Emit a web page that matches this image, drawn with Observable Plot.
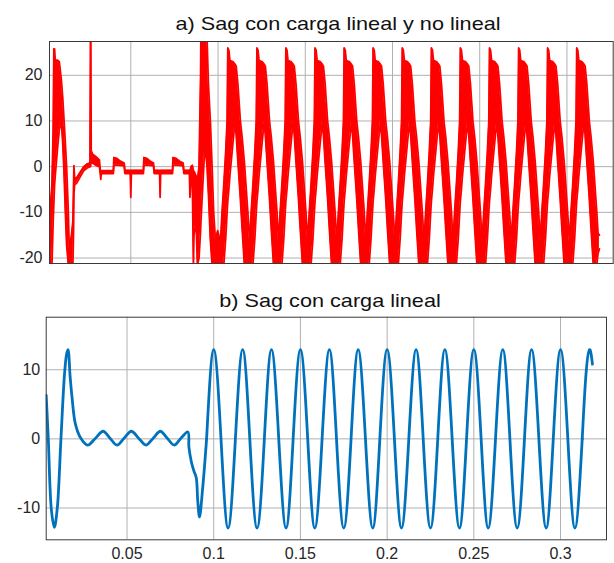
<!DOCTYPE html>
<html><head><meta charset="utf-8">
<script src="https://cdn.jsdelivr.net/npm/d3@7"></script>
<script src="https://cdn.jsdelivr.net/npm/@observablehq/plot@0.6"></script>
<style>
body{margin:0;background:#fff}
#root{position:relative;width:614px;height:563px;overflow:hidden;background:#fff;font-family:"Liberation Sans",Arial,sans-serif}
.panel{position:absolute;left:0}
.title{position:absolute;white-space:nowrap;font-size:19px;line-height:19px;color:#111;transform:translateX(-50%) scaleX(1.14)}
</style></head><body>
<div id="root">
<div id="top" class="panel" style="top:0"></div>
<div id="bot" class="panel" style="top:280px"></div>
<div class="title" style="left:338px;top:14px">a) Sag con carga lineal y no lineal</div>
<div class="title" style="left:330px;top:290.6px">b) Sag con carga lineal</div>
</div>
<script>
const xTicks = [0.05, 0.1, 0.15, 0.2, 0.25, 0.3];
const xTickLabels = ["0.05", "0.1", "0.15", "0.2", "0.25", "0.3"];
const topYTicks = [-20, -10, 0, 10, 20];
const botYTicks = [-10, 0, 10];

// a) red current band: [time, lower envelope, upper envelope]
const redBand = [
[0.0035,-21.5,-11],[0.0048,-21.5,-4],[0.0055,-12,8],[0.0059,-8,25.8],[0.0063,-4,25.8],[0.0067,-2,23.3],
[0.0080,4,23.3],[0.0090,8,23],[0.0102,10,19],[0.0110,5,15],[0.0117,-1,10.4],[0.0125,-10,5],[0.0132,-17,0],
[0.0142,-21.5,-10],[0.0147,-21.5,-18],[0.0160,-21.5,-15],[0.0168,-21.5,-12],[0.0172,-14,-4],[0.0174,-6,0.2],
[0.0178,-4,-2.5],[0.0190,-3.6,-2.4],[0.0210,-2.2,-1.2],[0.0230,-0.9,0],[0.0250,-0.3,0.6],[0.0266,0,0.8],
[0.0269,0,30],[0.0271,0.5,30],[0.0273,1,3.5],[0.0280,0.8,2.8],[0.0300,0.3,2.2],[0.0320,0,1.5],
[0.0325,-1.5,-0.8],[0.0328,-2.8,-1],[0.0331,-1.5,-0.9],[0.0400,-1.5,-0.9],
[0.0403,0.3,2.0],[0.0420,0.4,1.8],[0.0440,0.3,1.2],[0.0462,0.2,0.8],[0.0466,-1.5,-0.8],[0.0497,-1.5,-0.8],
[0.0500,-6.7,-1],[0.0503,-1.5,-0.8],[0.0572,-1.5,-0.8],
[0.0575,0.3,2.0],[0.0592,0.4,1.8],[0.0612,0.3,1.2],[0.0630,0.2,0.8],[0.0634,-1.5,-0.8],[0.0665,-1.5,-0.8],
[0.0668,-6.7,-1],[0.0671,-1.5,-0.8],[0.0739,-1.5,-0.8],
[0.0742,0.3,2.0],[0.0760,0.4,1.8],[0.0780,0.3,1.2],[0.0800,0.2,0.8],[0.0804,-1.5,-0.8],[0.0836,-1.5,-0.8],
[0.0839,-6.7,-1],[0.0845,-2.5,0],[0.0853,-4,0.3],[0.0859,-21.5,-1],[0.0862,-15,-1],[0.0874,-12,-2],
[0.0882,-21.5,-3],[0.0891,-20,0],[0.0900,-14,20],[0.0902,-12,30],[0.0921,2,30],[0.0925,5,30],
[0.0937,0,28],[0.0945,-6,18],[0.0956,-16,10],[0.0966,-21.5,0],[0.0975,-21.5,-10],[0.0985,-21.5,-16],[0.0998,-21.5,-14],
[0.1014,-21.5,-16.5],[0.1023,-21.5,-10],[0.1033,-21.5,-4],[0.1044,-15.7,3.3],[0.1052,-10,10],[0.1056,-7.5,26],[0.1062,-5,25.5],[0.1068,-2,23.2],[0.1085,5,23],[0.1098,10,22.4],[0.1104,7,22],[0.1114,1,18],[0.1121,-3,14],[0.1128,-7,10],[0.1138,-13.5,6.5],[0.1151,-21.5,1],[0.1171,-21.5,-10],
[0.1181,-21.5,-16.5],[0.1190,-21.5,-10],[0.1200,-21.5,-4],[0.1211,-15.7,3.3],[0.1219,-10,10],[0.1223,-7.5,26],[0.1229,-5,25.5],[0.1235,-2,23.2],[0.1252,5,23],[0.1265,10,22.4],[0.1271,7,22],[0.1281,1,18],[0.1288,-3,14],[0.1295,-7,10],[0.1305,-13.5,6.5],[0.1318,-21.5,1],[0.1338,-21.5,-10],
[0.1347,-21.5,-16.5],[0.1356,-21.5,-10],[0.1366,-21.5,-4],[0.1377,-15.7,3.3],[0.1385,-10,10],[0.1389,-7.5,26],[0.1395,-5,25.5],[0.1401,-2,23.2],[0.1418,5,23],[0.1431,10,22.4],[0.1437,7,22],[0.1447,1,18],[0.1454,-3,14],[0.1461,-7,10],[0.1471,-13.5,6.5],[0.1484,-21.5,1],[0.1504,-21.5,-10],
[0.1514,-21.5,-16.5],[0.1523,-21.5,-10],[0.1533,-21.5,-4],[0.1544,-15.7,3.3],[0.1552,-10,10],[0.1556,-7.5,26],[0.1562,-5,25.5],[0.1568,-2,23.2],[0.1585,5,23],[0.1598,10,22.4],[0.1604,7,22],[0.1614,1,18],[0.1621,-3,14],[0.1628,-7,10],[0.1638,-13.5,6.5],[0.1651,-21.5,1],[0.1671,-21.5,-10],
[0.1681,-21.5,-16.5],[0.1690,-21.5,-10],[0.1700,-21.5,-4],[0.1711,-15.7,3.3],[0.1719,-10,10],[0.1723,-7.5,26],[0.1729,-5,25.5],[0.1735,-2,23.2],[0.1752,5,23],[0.1765,10,22.4],[0.1771,7,22],[0.1781,1,18],[0.1788,-3,14],[0.1795,-7,10],[0.1805,-13.5,6.5],[0.1818,-21.5,1],[0.1838,-21.5,-10],
[0.1847,-21.5,-16.5],[0.1856,-21.5,-10],[0.1866,-21.5,-4],[0.1877,-15.7,3.3],[0.1885,-10,10],[0.1889,-7.5,26],[0.1895,-5,25.5],[0.1901,-2,23.2],[0.1918,5,23],[0.1931,10,22.4],[0.1937,7,22],[0.1947,1,18],[0.1954,-3,14],[0.1961,-7,10],[0.1971,-13.5,6.5],[0.1984,-21.5,1],[0.2004,-21.5,-10],
[0.2014,-21.5,-16.5],[0.2023,-21.5,-10],[0.2033,-21.5,-4],[0.2044,-15.7,3.3],[0.2052,-10,10],[0.2056,-7.5,26],[0.2062,-5,25.5],[0.2068,-2,23.2],[0.2085,5,23],[0.2098,10,22.4],[0.2104,7,22],[0.2114,1,18],[0.2121,-3,14],[0.2128,-7,10],[0.2138,-13.5,6.5],[0.2151,-21.5,1],[0.2171,-21.5,-10],
[0.2181,-21.5,-16.5],[0.2190,-21.5,-10],[0.2200,-21.5,-4],[0.2211,-15.7,3.3],[0.2219,-10,10],[0.2223,-7.5,26],[0.2229,-5,25.5],[0.2235,-2,23.2],[0.2252,5,23],[0.2265,10,22.4],[0.2271,7,22],[0.2281,1,18],[0.2288,-3,14],[0.2295,-7,10],[0.2305,-13.5,6.5],[0.2318,-21.5,1],[0.2338,-21.5,-10],
[0.2347,-21.5,-16.5],[0.2356,-21.5,-10],[0.2366,-21.5,-4],[0.2377,-15.7,3.3],[0.2385,-10,10],[0.2389,-7.5,26],[0.2395,-5,25.5],[0.2401,-2,23.2],[0.2418,5,23],[0.2431,10,22.4],[0.2437,7,22],[0.2447,1,18],[0.2454,-3,14],[0.2461,-7,10],[0.2471,-13.5,6.5],[0.2484,-21.5,1],[0.2504,-21.5,-10],
[0.2514,-21.5,-16.5],[0.2523,-21.5,-10],[0.2533,-21.5,-4],[0.2544,-15.7,3.3],[0.2552,-10,10],[0.2556,-7.5,26],[0.2562,-5,25.5],[0.2568,-2,23.2],[0.2585,5,23],[0.2598,10,22.4],[0.2604,7,22],[0.2614,1,18],[0.2621,-3,14],[0.2628,-7,10],[0.2638,-13.5,6.5],[0.2651,-21.5,1],[0.2671,-21.5,-10],
[0.2681,-21.5,-16.5],[0.2690,-21.5,-10],[0.2700,-21.5,-4],[0.2711,-15.7,3.3],[0.2719,-10,10],[0.2723,-7.5,26],[0.2729,-5,25.5],[0.2735,-2,23.2],[0.2752,5,23],[0.2765,10,22.4],[0.2771,7,22],[0.2781,1,18],[0.2788,-3,14],[0.2795,-7,10],[0.2805,-13.5,6.5],[0.2818,-21.5,1],[0.2838,-21.5,-10],
[0.2847,-21.5,-16.5],[0.2856,-21.5,-10],[0.2866,-21.5,-4],[0.2877,-15.7,3.3],[0.2885,-10,10],[0.2889,-7.5,26],[0.2895,-5,25.5],[0.2901,-2,23.2],[0.2918,5,23],[0.2931,10,22.4],[0.2937,7,22],[0.2947,1,18],[0.2954,-3,14],[0.2961,-7,10],[0.2971,-13.5,6.5],[0.2984,-21.5,1],[0.3004,-21.5,-10],
[0.3014,-21.5,-16.5],[0.3023,-21.5,-10],[0.3033,-21.5,-4],[0.3044,-15.7,3.3],[0.3052,-10,10],[0.3056,-7.5,26],[0.3062,-5,25.5],[0.3068,-2,23.2],[0.3085,5,23],[0.3098,10,22.4],[0.3104,7,22],[0.3114,1,18],[0.3121,-3,14],[0.3128,-7,10],[0.3138,-13.5,6.5],[0.3151,-21.5,1],[0.3171,-21.5,-10],
[0.3178,-19,-14.5],[0.3186,-18,-15]
];

// b) blue current: [time, value], in three stretches
const blueStart = [
[0.0034,6.3],[0.0046,0],[0.0064,-10.3],[0.0081,-12.8],[0.0098,-10.0],[0.0119,0],
[0.0140,9.5],[0.0152,12.3],[0.0160,12.9],[0.0172,9],[0.0183,6],[0.0202,2.2],[0.0231,0.2],[0.0273,-0.9],
[0.0318,0.1],[0.0362,1.1],[0.0402,0.1],[0.0442,-0.9],[0.0483,0.1],[0.0525,1.1],[0.0567,0.1],[0.0609,-0.9],
[0.0651,0.1],[0.0692,1.1],[0.0732,0.1],[0.0772,-0.9],[0.0811,0.1],[0.0851,1.0],[0.0857,-1.2],[0.0870,-3.2],
[0.0885,-4.6],[0.0899,-5.6],[0.0908,-9],[0.0918,-11.3],[0.0935,-7.5],[0.0959,0]
];
const blueSteady = [
[0.0959,0],[0.1000,12.9],[0.1042,0],[0.1083,-12.9],
[0.1125,0],[0.1167,12.9],[0.1208,0],[0.1250,-12.9],[0.1292,0],[0.1333,12.9],[0.1375,0],[0.1417,-12.9],
[0.1458,0],[0.1500,12.9],[0.1542,0],[0.1583,-12.9],[0.1625,0],[0.1667,12.9],[0.1708,0],[0.1750,-12.9],
[0.1792,0],[0.1833,12.9],[0.1875,0],[0.1917,-12.9],[0.1958,0],[0.2000,12.9],[0.2042,0],[0.2083,-12.9],
[0.2125,0],[0.2167,12.9],[0.2208,0],[0.2250,-12.9],[0.2292,0],[0.2333,12.9],[0.2375,0],[0.2417,-12.9],
[0.2458,0],[0.2500,12.9],[0.2542,0],[0.2583,-12.9],[0.2625,0],[0.2667,12.9],[0.2708,0],[0.2750,-12.9],
[0.2792,0],[0.2833,12.9],[0.2875,0],[0.2917,-12.9],[0.2958,0],[0.3000,12.9],[0.3042,0],[0.3083,-12.9],
[0.3125,0]
];
const blueTail = [[0.3125,0],[0.3146,9.1],[0.3167,12.9],[0.3184,10.8]];

const redRows = redBand.map(([t, lo, hi]) => ({t, lo, hi}));
const toRows = arr => arr.map(([t, v]) => ({t, v}));

const style = {fontSize: "16px", fontFamily: "'Liberation Sans', Arial, sans-serif", color: "#262626", background: "transparent", overflow: "visible"};
const grid = {stroke: "#b0b0b0", strokeOpacity: 1, strokeWidth: 1};
const fmt = d => String(d);
const blue = {x: "t", y: "v", stroke: "#0072BD", strokeWidth: 2.8, clip: true};

const topChart = Plot.plot({
  width: 614, height: 275,
  marginLeft: 49, marginRight: 1.3, marginTop: 41, marginBottom: 12,
  style,
  x: {domain: [0.0034, 0.3265], axis: null},
  y: {domain: [-21.2, 27.4], ticks: topYTicks, tickSize: 0, tickPadding: 7, tickFormat: fmt, label: null},
  marks: [
    Plot.gridX(xTicks, grid),
    Plot.gridY(topYTicks, grid),
    Plot.areaY(redRows, {x: "t", y1: "lo", y2: "hi", fill: "#ff0000", clip: true}),
    Plot.line(redRows, {x: "t", y: "hi", stroke: "#ff0000", strokeWidth: 1.8, clip: true}),
    Plot.line(redRows, {x: "t", y: "lo", stroke: "#ff0000", strokeWidth: 1.8, clip: true}),
    Plot.frame({stroke: "#3a3a3a"})
  ]
});
document.getElementById("top").appendChild(topChart);

const botChart = Plot.plot({
  width: 614, height: 283,
  marginLeft: 45.7, marginRight: 8, marginTop: 36.7, marginBottom: 23.7,
  style,
  x: {domain: [0.0034, 0.3265], ticks: xTicks, tickSize: 0, tickPadding: 7.4, tickFormat: d => xTickLabels[xTicks.indexOf(d)], label: null},
  y: {domain: [-14.6, 17.6], ticks: botYTicks, tickSize: 0, tickPadding: 6, tickFormat: fmt, label: null},
  marks: [
    Plot.gridX(xTicks, grid),
    Plot.gridY(botYTicks, grid),
    Plot.line(toRows(blueStart), {...blue, curve: "catmull-rom"}),
    Plot.line(toRows(blueSteady), {...blue, curve: "natural"}),
    Plot.line(toRows(blueTail), {...blue, curve: "natural"}),
    Plot.frame({stroke: "#3a3a3a"})
  ]
});
document.getElementById("bot").appendChild(botChart);
</script>
</body></html>
